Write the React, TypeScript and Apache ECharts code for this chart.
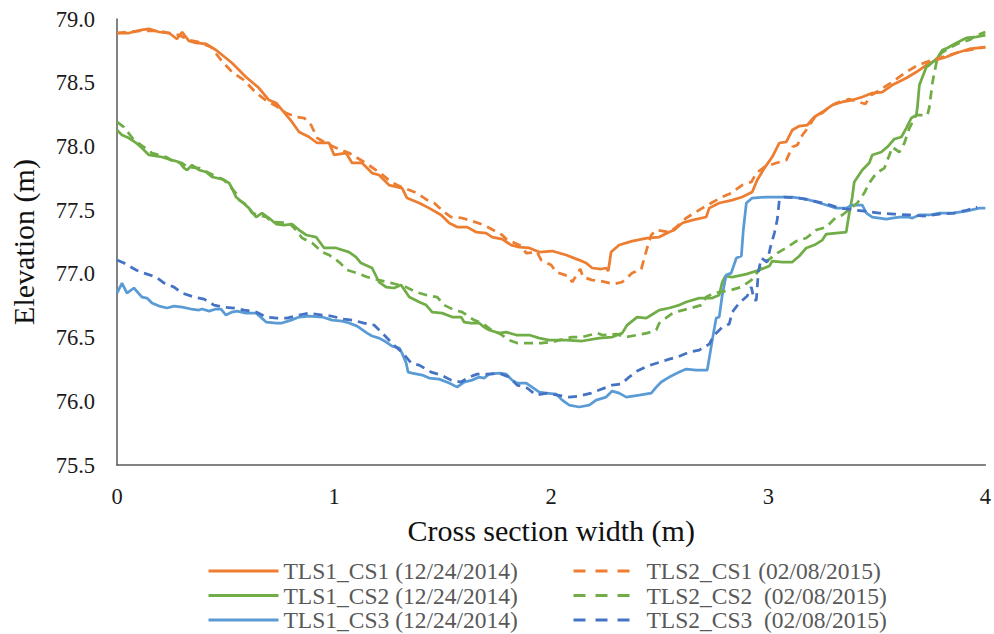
import React, { useEffect, useRef } from "react";
import * as echarts from "echarts";

const FONT = "Liberation Serif, Times New Roman, Times, serif";

const names = [
  "TLS1_CS1 (12/24/2014)",
  "TLS2_CS1 (02/08/2015)",
  "TLS1_CS2 (12/24/2014)",
  "TLS2_CS2  (02/08/2015)",
  "TLS1_CS3 (12/24/2014)",
  "TLS2_CS3  (02/08/2015)",
];

const xTicks = [0, 1, 2, 3, 4];
const yTicks = [75.5, 76.0, 76.5, 77.0, 77.5, 78.0, 78.5, 79.0];

const tls1Cs1: [number, number][] = [
  [0, 78.89], [0.055, 78.89], [0.115, 78.914], [0.147, 78.922], [0.194, 78.898], [0.24, 78.89],
  [0.276, 78.843], [0.3, 78.898], [0.332, 78.827], [0.364, 78.812], [0.41, 78.804], [0.456, 78.757],
  [0.53, 78.655], [0.594, 78.545], [0.654, 78.458], [0.7, 78.364], [0.733, 78.341], [0.76, 78.286],
  [0.806, 78.192], [0.839, 78.113], [0.885, 78.074], [0.922, 78.027], [0.977, 78.027], [1.0, 77.933],
  [1.055, 77.948], [1.083, 77.87], [1.129, 77.87], [1.175, 77.791], [1.207, 77.776], [1.253, 77.697],
  [1.313, 77.673], [1.336, 77.595], [1.392, 77.556], [1.438, 77.516], [1.493, 77.462], [1.53, 77.399],
  [1.567, 77.367], [1.613, 77.367], [1.654, 77.328], [1.7, 77.32], [1.728, 77.289], [1.774, 77.273],
  [1.816, 77.226], [1.853, 77.21], [1.899, 77.203], [1.945, 77.171], [2.005, 77.179], [2.069, 77.148],
  [2.129, 77.108], [2.161, 77.085], [2.189, 77.046], [2.23, 77.038], [2.253, 77.046], [2.263, 77.022],
  [2.276, 77.171], [2.313, 77.226], [2.373, 77.257], [2.442, 77.281], [2.498, 77.289], [2.544, 77.328],
  [2.567, 77.344], [2.604, 77.399], [2.65, 77.422], [2.714, 77.446], [2.728, 77.516], [2.774, 77.556],
  [2.834, 77.579], [2.88, 77.603], [2.926, 77.642], [2.949, 77.736], [2.982, 77.83], [3.018, 77.917],
  [3.051, 78.027], [3.083, 78.035], [3.111, 78.129], [3.143, 78.16], [3.18, 78.168], [3.212, 78.231],
  [3.249, 78.27], [3.295, 78.325], [3.341, 78.349], [3.387, 78.364], [3.433, 78.388], [3.479, 78.419],
  [3.525, 78.427], [3.571, 78.482], [3.636, 78.537], [3.682, 78.584], [3.728, 78.639], [3.774, 78.678],
  [3.82, 78.702], [3.866, 78.733], [3.926, 78.765], [4.0, 78.78],
];

const tls2Cs1: [number, number][] = [
  [0, 78.89], [0.101, 78.906], [0.194, 78.906], [0.286, 78.874], [0.332, 78.835], [0.378, 78.819],
  [0.433, 78.78], [0.479, 78.678], [0.53, 78.584], [0.585, 78.521], [0.641, 78.419], [0.691, 78.356],
  [0.733, 78.317], [0.779, 78.262], [0.825, 78.231], [0.862, 78.223], [0.894, 78.168], [0.922, 78.066],
  [0.954, 78.035], [1.0, 77.995], [1.069, 77.948], [1.138, 77.878], [1.207, 77.799], [1.263, 77.721],
  [1.3, 77.689], [1.346, 77.658], [1.382, 77.634], [1.429, 77.579], [1.461, 77.556], [1.507, 77.485],
  [1.539, 77.446], [1.59, 77.438], [1.622, 77.422], [1.691, 77.383], [1.724, 77.352], [1.774, 77.305],
  [1.793, 77.273], [1.862, 77.218], [1.885, 77.163], [1.935, 77.171], [1.954, 77.108], [2.0, 77.069],
  [2.023, 77.014], [2.078, 76.983], [2.097, 76.936], [2.134, 77.038], [2.147, 76.975], [2.189, 76.951],
  [2.23, 76.943], [2.29, 76.92], [2.327, 76.936], [2.373, 77.006], [2.415, 77.038], [2.429, 77.124],
  [2.442, 77.203], [2.461, 77.305], [2.484, 77.344], [2.544, 77.328], [2.576, 77.367], [2.622, 77.438],
  [2.659, 77.477], [2.696, 77.516], [2.737, 77.556], [2.788, 77.603], [2.829, 77.634], [2.88, 77.697],
  [2.922, 77.721], [2.945, 77.791], [2.982, 77.838], [3.037, 77.87], [3.083, 77.893], [3.111, 77.995],
  [3.134, 78.011], [3.157, 78.089], [3.175, 78.129], [3.221, 78.246], [3.249, 78.262], [3.281, 78.309],
  [3.313, 78.341], [3.373, 78.372], [3.447, 78.333], [3.475, 78.403], [3.571, 78.505], [3.636, 78.584],
  [3.682, 78.631], [3.728, 78.662], [3.788, 78.694], [3.88, 78.741], [4.0, 78.78],
];

const tls1Cs2: [number, number][] = [
  [0, 78.129], [0.023, 78.089], [0.055, 78.066], [0.088, 78.027], [0.115, 77.987], [0.147, 77.933],
  [0.207, 77.917], [0.253, 77.893], [0.286, 77.878], [0.309, 77.83], [0.323, 77.815], [0.346, 77.854],
  [0.378, 77.815], [0.41, 77.799], [0.438, 77.76], [0.484, 77.744], [0.516, 77.713], [0.53, 77.673],
  [0.548, 77.603], [0.576, 77.564], [0.608, 77.516], [0.641, 77.446], [0.668, 77.477], [0.7, 77.438],
  [0.733, 77.391], [0.77, 77.383], [0.806, 77.391], [0.839, 77.344], [0.871, 77.305], [0.917, 77.289],
  [0.954, 77.203], [1.009, 77.203], [1.069, 77.171], [1.101, 77.132], [1.124, 77.085], [1.175, 77.046],
  [1.207, 76.936], [1.24, 76.896], [1.276, 76.889], [1.309, 76.912], [1.346, 76.818], [1.392, 76.779],
  [1.424, 76.755], [1.452, 76.7], [1.498, 76.692], [1.544, 76.661], [1.585, 76.661], [1.599, 76.622],
  [1.631, 76.614], [1.668, 76.614], [1.691, 76.582], [1.714, 76.559], [1.76, 76.535], [1.793, 76.543],
  [1.839, 76.52], [1.899, 76.52], [1.945, 76.496], [1.991, 76.48], [2.069, 76.48], [2.143, 76.473],
  [2.221, 76.496], [2.281, 76.504], [2.327, 76.535], [2.35, 76.598], [2.396, 76.661], [2.438, 76.653],
  [2.461, 76.677], [2.498, 76.716], [2.544, 76.732], [2.59, 76.755], [2.622, 76.779], [2.682, 76.81],
  [2.742, 76.81], [2.774, 76.834], [2.788, 76.936], [2.802, 76.983], [2.834, 76.975], [2.899, 76.998],
  [2.959, 77.03], [3.005, 77.061], [3.018, 77.1], [3.065, 77.093], [3.111, 77.093], [3.143, 77.14],
  [3.175, 77.203], [3.212, 77.226], [3.249, 77.265], [3.267, 77.312], [3.313, 77.32], [3.359, 77.328],
  [3.373, 77.477], [3.387, 77.603], [3.396, 77.721], [3.433, 77.815], [3.465, 77.87], [3.479, 77.933],
  [3.521, 77.956], [3.548, 77.995], [3.581, 78.058], [3.613, 78.074], [3.636, 78.144], [3.659, 78.223],
  [3.682, 78.246], [3.687, 78.309], [3.696, 78.482], [3.728, 78.623], [3.742, 78.639], [3.779, 78.694],
  [3.802, 78.757], [3.825, 78.772], [3.866, 78.812], [3.912, 78.851], [3.959, 78.859], [4.0, 78.874],
];

const tls2Cs2: [number, number][] = [
  [0, 78.192], [0.032, 78.152], [0.078, 78.05], [0.124, 77.995], [0.161, 77.948], [0.226, 77.917],
  [0.263, 77.878], [0.3, 77.87], [0.323, 77.838], [0.378, 77.83], [0.424, 77.791], [0.493, 77.736],
  [0.548, 77.634], [0.562, 77.579], [0.599, 77.54], [0.622, 77.477], [0.687, 77.446], [0.714, 77.407],
  [0.793, 77.399], [0.825, 77.344], [0.853, 77.281], [0.899, 77.242], [0.945, 77.171], [0.977, 77.148],
  [1.023, 77.093], [1.06, 77.03], [1.106, 77.006], [1.152, 76.975], [1.207, 76.951], [1.263, 76.928],
  [1.3, 76.912], [1.332, 76.896], [1.378, 76.857], [1.424, 76.834], [1.475, 76.818], [1.507, 76.755],
  [1.553, 76.716], [1.59, 76.7], [1.645, 76.637], [1.682, 76.614], [1.737, 76.543], [1.76, 76.535],
  [1.806, 76.48], [1.843, 76.457], [1.908, 76.457], [1.954, 76.457], [2.005, 76.465], [2.037, 76.48],
  [2.097, 76.504], [2.143, 76.504], [2.212, 76.535], [2.235, 76.52], [2.3, 76.527], [2.346, 76.504],
  [2.396, 76.52], [2.442, 76.535], [2.484, 76.559], [2.498, 76.614], [2.553, 76.684], [2.59, 76.708],
  [2.645, 76.732], [2.691, 76.755], [2.714, 76.818], [2.751, 76.849], [2.829, 76.873], [2.876, 76.896],
  [2.922, 76.951], [2.982, 77.085], [3.041, 77.163], [3.088, 77.21], [3.129, 77.257], [3.175, 77.281],
  [3.221, 77.344], [3.267, 77.367], [3.304, 77.43], [3.341, 77.462], [3.382, 77.516], [3.41, 77.556],
  [3.442, 77.634], [3.465, 77.713], [3.498, 77.791], [3.535, 77.83], [3.558, 77.933], [3.571, 77.995],
  [3.604, 77.956], [3.627, 78.027], [3.65, 78.144], [3.682, 78.246], [3.733, 78.246], [3.742, 78.309],
  [3.756, 78.498], [3.774, 78.655], [3.797, 78.733], [3.834, 78.772], [3.88, 78.812], [3.926, 78.835],
  [3.963, 78.874], [4.0, 78.898],
];

const tls1Cs3: [number, number][] = [
  [0, 76.849], [0.023, 76.928], [0.046, 76.849], [0.078, 76.889], [0.115, 76.818], [0.138, 76.81],
  [0.161, 76.771], [0.194, 76.747], [0.23, 76.732], [0.263, 76.747], [0.3, 76.739], [0.341, 76.724],
  [0.378, 76.716], [0.392, 76.724], [0.424, 76.708], [0.456, 76.724], [0.479, 76.724], [0.502, 76.677],
  [0.53, 76.7], [0.553, 76.708], [0.594, 76.692], [0.641, 76.692], [0.687, 76.622], [0.733, 76.614],
  [0.76, 76.614], [0.802, 76.637], [0.839, 76.661], [0.885, 76.669], [0.945, 76.661], [0.991, 76.637],
  [1.037, 76.629], [1.069, 76.614], [1.106, 76.59], [1.152, 76.535], [1.175, 76.512], [1.207, 76.496],
  [1.24, 76.465], [1.267, 76.433], [1.3, 76.418], [1.313, 76.378], [1.332, 76.3], [1.341, 76.229],
  [1.359, 76.221], [1.406, 76.206], [1.438, 76.182], [1.484, 76.174], [1.53, 76.143], [1.567, 76.111],
  [1.599, 76.151], [1.636, 76.166], [1.668, 76.19], [1.691, 76.182], [1.714, 76.213], [1.76, 76.221],
  [1.793, 76.213], [1.82, 76.166], [1.843, 76.143], [1.885, 76.143], [1.912, 76.111], [1.945, 76.072],
  [1.977, 76.064], [2.023, 76.057], [2.051, 76.009], [2.083, 75.97], [2.129, 75.955], [2.175, 75.97],
  [2.207, 76.009], [2.253, 76.033], [2.281, 76.08], [2.313, 76.064], [2.346, 76.033], [2.406, 76.049],
  [2.461, 76.064], [2.484, 76.111], [2.507, 76.151], [2.544, 76.19], [2.59, 76.229], [2.622, 76.253],
  [2.668, 76.245], [2.719, 76.245], [2.742, 76.48], [2.76, 76.653], [2.774, 76.661], [2.788, 76.834],
  [2.806, 76.991], [2.829, 77.006], [2.853, 77.124], [2.876, 77.14], [2.885, 77.344], [2.899, 77.556],
  [2.926, 77.595], [2.991, 77.603], [3.051, 77.603], [3.111, 77.603], [3.175, 77.587], [3.221, 77.564],
  [3.267, 77.54], [3.313, 77.516], [3.359, 77.516], [3.387, 77.54], [3.433, 77.54], [3.452, 77.477],
  [3.479, 77.446], [3.544, 77.43], [3.571, 77.438], [3.604, 77.446], [3.641, 77.446], [3.664, 77.438],
  [3.696, 77.462], [3.742, 77.462], [3.788, 77.477], [3.848, 77.477], [3.912, 77.493], [3.972, 77.516],
  [4.0, 77.516],
];

const tls2Cs3: [number, number][] = [
  [0, 77.108], [0.032, 77.085], [0.088, 77.03], [0.124, 77.006], [0.18, 76.975], [0.217, 76.928],
  [0.263, 76.896], [0.3, 76.849], [0.355, 76.818], [0.401, 76.802], [0.447, 76.755], [0.493, 76.739],
  [0.539, 76.732], [0.585, 76.716], [0.641, 76.7], [0.687, 76.661], [0.737, 76.653], [0.783, 76.653],
  [0.839, 76.677], [0.885, 76.692], [0.945, 76.677], [0.986, 76.669], [1.046, 76.645], [1.083, 76.637],
  [1.138, 76.614], [1.184, 76.598], [1.217, 76.543], [1.244, 76.496], [1.286, 76.425], [1.313, 76.386],
  [1.355, 76.3], [1.392, 76.284], [1.447, 76.229], [1.493, 76.206], [1.539, 76.166], [1.585, 76.151],
  [1.622, 76.19], [1.659, 76.213], [1.714, 76.213], [1.76, 76.221], [1.806, 76.19], [1.843, 76.127],
  [1.889, 76.104], [1.931, 76.049], [1.982, 76.064], [2.028, 76.049], [2.083, 76.033], [2.129, 76.041],
  [2.184, 76.064], [2.221, 76.088], [2.281, 76.127], [2.323, 76.135], [2.359, 76.19], [2.396, 76.237],
  [2.442, 76.276], [2.488, 76.3], [2.544, 76.331], [2.581, 76.347], [2.636, 76.386], [2.682, 76.402],
  [2.728, 76.449], [2.751, 76.52], [2.788, 76.582], [2.82, 76.606], [2.834, 76.7], [2.866, 76.771],
  [2.903, 76.826], [2.922, 76.896], [2.935, 76.794], [2.945, 76.794], [2.954, 77.014], [2.968, 77.124],
  [2.995, 77.093], [3.009, 77.203], [3.028, 77.32], [3.041, 77.422], [3.051, 77.579], [3.074, 77.603],
  [3.143, 77.595], [3.212, 77.571], [3.272, 77.548], [3.327, 77.516], [3.396, 77.501], [3.442, 77.493],
  [3.512, 77.477], [3.581, 77.469], [3.65, 77.462], [3.719, 77.454], [3.788, 77.469], [3.857, 77.477],
  [3.917, 77.501], [3.963, 77.524],
];

const seriesData = [tls1Cs1, tls2Cs1, tls1Cs2, tls2Cs2, tls1Cs3, tls2Cs3];
const colors = ["#ED7D31", "#ED7D31", "#70AD47", "#70AD47", "#5B9BD5", "#4472C4"];
const dashed = [false, true, false, true, false, true];

export default function App() {
  const ref = useRef<HTMLDivElement>(null);

  useEffect(() => {
    document.body.style.margin = "0";
    const chart = echarts.init(ref.current!, null, { renderer: "svg" });
    const legendText = {
      fontFamily: FONT,
      fontSize: 23.5,
      color: "#595959",
      lineHeight: 24,
    };
    const hiddenSymbol = { opacity: 0, borderWidth: 0 };
    chart.setOption({
      animation: false,
      backgroundColor: "#ffffff",
      textStyle: { fontFamily: FONT },
      grid: { left: 117, right: 8, top: 19, bottom: 169, containLabel: false },
      xAxis: {
        type: "value",
        min: xTicks[0],
        max: xTicks[xTicks.length - 1],
        interval: 1,
        axisLine: { show: true, onZero: false, lineStyle: { color: "#595959", width: 1.5 } },
        axisTick: { show: false },
        splitLine: { show: false },
        axisLabel: { fontFamily: FONT, fontSize: 22.5, color: "#1a1a1a", margin: 20 },
        name: "Cross section width (m)",
        nameLocation: "middle",
        nameGap: 50,
        nameTextStyle: { fontFamily: FONT, fontSize: 30, color: "#111111" },
      },
      yAxis: {
        type: "value",
        min: yTicks[0],
        max: yTicks[yTicks.length - 1],
        interval: 0.5,
        axisLine: { show: true, lineStyle: { color: "#595959", width: 1.5 } },
        axisTick: { show: false },
        splitLine: { show: false },
        axisLabel: {
          fontFamily: FONT,
          fontSize: 22.5,
          color: "#1a1a1a",
          margin: 22,
          formatter: (v: number) => v.toFixed(1),
        },
        name: "Elevation (m)",
        nameLocation: "middle",
        nameGap: 79,
        nameRotate: 90,
        nameTextStyle: { fontFamily: FONT, fontSize: 30, color: "#111111" },
      },
      legend: [
        {
          orient: "vertical",
          left: 207,
          top: 559,
          padding: 0,
          itemWidth: 70,
          itemHeight: 14,
          itemGap: 0.5,
          data: [names[0], names[2], names[4]],
          textStyle: legendText,
          itemStyle: hiddenSymbol,
          lineStyle: { width: 3 },
        },
        {
          orient: "vertical",
          left: 572,
          top: 559,
          padding: 0,
          itemWidth: 56,
          itemHeight: 14,
          itemGap: 0.5,
          data: [names[1], names[3], names[5]],
          textStyle: { ...legendText, padding: [0, 0, 0, 12] },
          itemStyle: hiddenSymbol,
          lineStyle: { width: 3, type: [12, 10] },
        },
      ],
      series: seriesData.map((d, i) => ({
        name: names[i],
        type: "line",
        data: d,
        symbol: "none",
        showSymbol: false,
        color: colors[i],
        lineStyle: {
          color: colors[i],
          width: 2.75,
          type: dashed[i] ? [9, 6] : "solid",
        },
        z: dashed[i] ? 3 : 2,
      })),
    });
    return () => chart.dispose();
  }, []);

  return <div ref={ref} style={{ width: 994, height: 634 }} />;
}
